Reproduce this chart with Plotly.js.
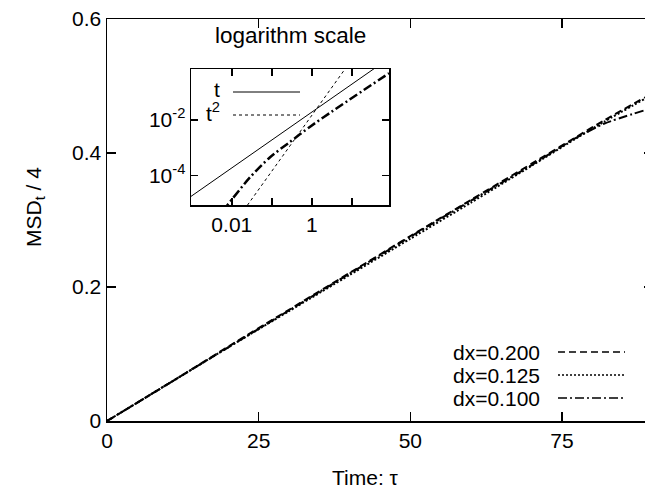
<!DOCTYPE html>
<html>
<head>
<meta charset="utf-8">
<script src="https://cdn.plot.ly/plotly-3.0.1.min.js"></script>
<style>
html,body{margin:0;padding:0;overflow:hidden;background:#fff;}
#plot{width:700px;height:490px;}
</style>
</head>
<body>
<div id="plot"></div>
<script>
// Main plot data (time tau vs MSD_t/4)
const tau = [0, 10, 20, 30, 40, 50, 60, 70, 77, 82, 88.7];
const msd_dx200 = [0, 0.055, 0.111, 0.166, 0.221, 0.276, 0.330, 0.384, 0.422, 0.449, 0.483];
const msd_dx125 = [0, 0.055, 0.110, 0.164, 0.218, 0.272, 0.326, 0.381, 0.420, 0.447, 0.481];
const msd_dx100 = [0, 0.055, 0.110, 0.165, 0.220, 0.275, 0.329, 0.382, 0.421, 0.444, 0.464];
const seriesNames = ['dx=0.200', 'dx=0.125', 'dx=0.100'];

// Inset (log-log) data
const tLog = [0.006, 0.0079, 0.028, 0.089, 0.28, 0.89, 3.35, 85];
const msdLog = [5.5e-6, 9.1e-6, 8.5e-5, 4.5e-4, 1.6e-3, 5.6e-3, 0.021, 0.47];
// Reference power laws
const tRef = [0.0008, 100];
const yRefT = [1.52e-5, 1.9];
const yRefT2 = [9.3e-9, 145];

// Tick labels
const xTicks = [0, 25, 50, 75];
const yTicks = [0, 0.2, 0.4, 0.6];
const yTickText = ['0', '0.2', '0.4', '0.6'];
const x2Ticks = [0.001, 0.01, 0.1, 1, 10];
const x2TickText = ['', '0.01', '', '1', ''];
const y2Ticks = [1e-4, 1e-2];
const y2TickText = ['10<sup>-4</sup>', '10<sup>-2</sup>'];

const dashes = ['7px,4px', '2px,2px', '9px,3px,2px,3px'];
const FONT = 'Liberation Sans, Arial, Helvetica, sans-serif';

const mainSeries = [msd_dx200, msd_dx125, msd_dx100];
const traces = mainSeries.map((ys, i) => ({
  x: tau, y: ys, type: 'scatter', mode: 'lines', name: seriesNames[i],
  line: {color: 'black', width: 2, dash: dashes[i], shape: 'spline', smoothing: 0.6},
  xaxis: 'x', yaxis: 'y', showlegend: false
}));
traces.push({x: tRef, y: yRefT, type: 'scatter', mode: 'lines', xaxis: 'x2', yaxis: 'y2',
  line: {color: 'black', width: 1}, showlegend: false});
traces.push({x: tRef, y: yRefT2, type: 'scatter', mode: 'lines', xaxis: 'x2', yaxis: 'y2',
  line: {color: 'black', width: 1, dash: '3px,3px'}, showlegend: false});
traces.push({x: tLog, y: msdLog, type: 'scatter', mode: 'lines', xaxis: 'x2', yaxis: 'y2',
  line: {color: 'black', width: 2.5, dash: '9px,3px,2px,3px', shape: 'spline', smoothing: 0.8}, showlegend: false});

// pixel -> paper helpers (plot area: x 107..653, y 19..421)
const px = v => (v - 107) / 546;
const py = v => (421 - v) / 402;

const annotations = [];
const shapes = [];
const legRows = [352, 375, 398];
seriesNames.forEach((n, i) => {
  annotations.push({xref: 'paper', yref: 'paper', x: px(542), y: py(legRows[i]),
    xanchor: 'right', yanchor: 'middle', text: n, showarrow: false,
    font: {family: FONT, size: 21, color: 'black'}});
  shapes.push({type: 'line', xref: 'paper', yref: 'paper', x0: px(558), x1: px(625),
    y0: py(legRows[i]), y1: py(legRows[i]), line: {color: 'black', width: 1.5, dash: dashes[i]}});
});
// inset legend
annotations.push({xref: 'paper', yref: 'paper', x: px(222), y: py(89), xanchor: 'right', yanchor: 'middle',
  text: 't', showarrow: false, font: {family: FONT, size: 21, color: 'black'}});
annotations.push({xref: 'paper', yref: 'paper', x: px(222), y: py(112), xanchor: 'right', yanchor: 'middle',
  text: 't<sup>2</sup>', showarrow: false, font: {family: FONT, size: 21, color: 'black'}});
shapes.push({type: 'line', xref: 'paper', yref: 'paper', x0: px(233), x1: px(300), y0: py(92), y1: py(92),
  line: {color: 'black', width: 1}});
shapes.push({type: 'line', xref: 'paper', yref: 'paper', x0: px(233), x1: px(300), y0: py(115), y1: py(115),
  line: {color: 'black', width: 1, dash: '3px,3px'}});
// inset title
annotations.push({xref: 'paper', yref: 'paper', x: px(290), y: py(35), xanchor: 'center', yanchor: 'middle',
  text: 'logarithm scale', showarrow: false, font: {family: FONT, size: 22.5, color: 'black'}});
// axis titles
annotations.push({xref: 'paper', yref: 'paper', x: px(365), y: py(477), xanchor: 'center', yanchor: 'middle',
  text: 'Time: τ', showarrow: false, font: {family: FONT, size: 21, color: 'black'}});
annotations.push({xref: 'paper', yref: 'paper', x: px(35), y: py(207), xanchor: 'center', yanchor: 'middle',
  text: 'MSD<sub>t</sub> / 4', textangle: -90, showarrow: false, font: {family: FONT, size: 21, color: 'black'}});

const axisCommon = {
  showline: true, linecolor: 'black', linewidth: 1.5, mirror: 'ticks', ticks: 'inside',
  tickcolor: 'black', tickwidth: 1.5, showgrid: false, zeroline: false,
  tickfont: {family: FONT, size: 21, color: 'black'}
};

const layout = {
  width: 700, height: 490,
  margin: {l: 107, r: 47, t: 19, b: 69},
  paper_bgcolor: 'white', plot_bgcolor: 'white',
  showlegend: false,
  font: {family: FONT, size: 21, color: 'black'},
  xaxis: Object.assign({}, axisCommon, {range: [0, 90], tickvals: xTicks, ticklen: 9, domain: [0, 1], anchor: 'y'}),
  yaxis: Object.assign({}, axisCommon, {range: [0, 0.6], tickvals: yTicks, ticktext: yTickText, ticklen: 9, domain: [0, 1], anchor: 'x'}),
  xaxis2: Object.assign({}, axisCommon, {type: 'log', range: [-3.02, 1.93], tickvals: x2Ticks, ticktext: x2TickText,
    ticklen: 7, domain: [px(191), px(389)], anchor: 'y2'}),
  yaxis2: Object.assign({}, axisCommon, {type: 'log', range: [-5.05, -0.176], tickvals: y2Ticks, ticktext: y2TickText,
    ticklen: 7, domain: [py(205), py(69)], anchor: 'x2'}),
  annotations: annotations,
  shapes: shapes
};

Plotly.newPlot('plot', traces, layout, {staticPlot: true, displayModeBar: false});
</script>
</body>
</html>
